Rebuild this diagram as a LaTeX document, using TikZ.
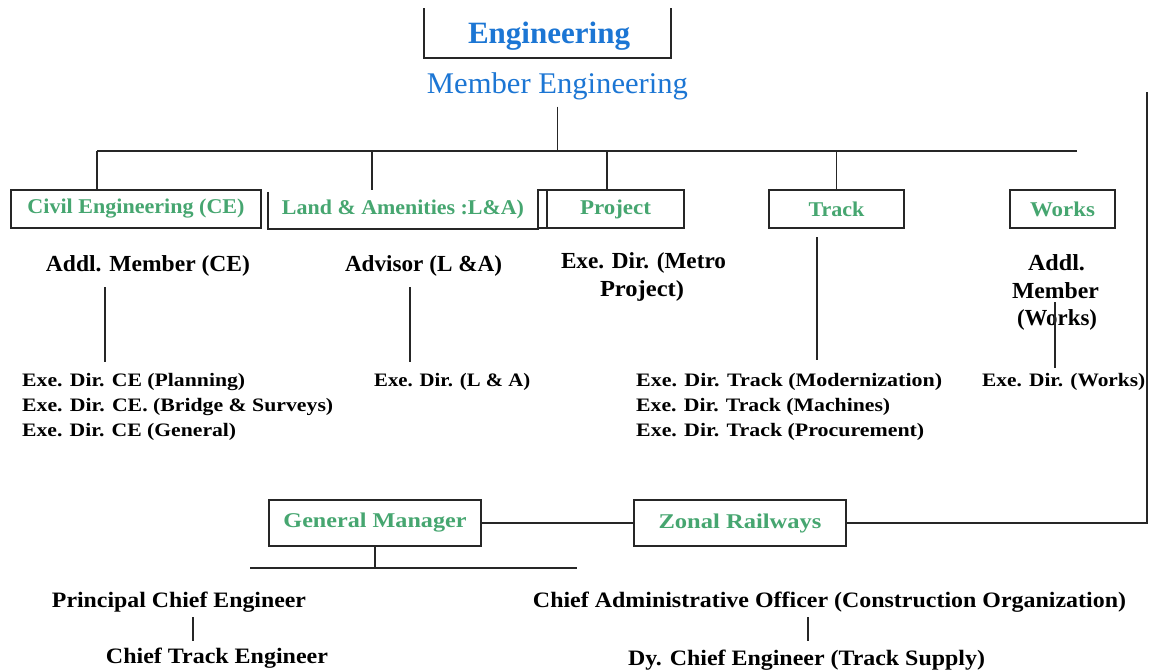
\documentclass[tikz,border=0pt]{standalone}
\usepackage{fontspec}
\setmainfont{Liberation Serif}
\usepackage{graphicx}
\usetikzlibrary{calc}
\definecolor{engblue}{RGB}{28,118,212}
\definecolor{boxgreen}{RGB}{70,166,112}
\definecolor{linec}{RGB}{38,38,38}
\newcommand{\fw}[2]{\resizebox{#1pt}{\height}{#2}}
\tikzset{
  conn/.style={draw=linec, line width=1.8pt},
  gbox/.style={draw=linec, line width=1.8pt, inner sep=0pt, text=boxgreen, font=\fontsize{21}{21}\selectfont\bfseries},
  lbl/.style={inner sep=0pt, anchor=base, font=\fontsize{23}{23}\selectfont\bfseries},
  lst/.style={inner sep=0pt, anchor=base west, font=\fontsize{19}{19}\selectfont\bfseries},
  btm/.style={inner sep=0pt, anchor=base, font=\fontsize{22}{22}\selectfont\bfseries},
}
\begin{document}
\begin{tikzpicture}[x=1pt,y=-1pt]
\useasboundingbox[fill=white] (0,0) rectangle (1156,670);

% top title
\node[inner sep=0pt, anchor=base, text=engblue, font=\fontsize{31}{31}\selectfont\bfseries] (eng) at (549,43) {\fw{162}{Engineering}};
\coordinate (engTL) at (424,8);
\coordinate (engTR) at (671,8);
\draw[conn] (engTL) -- (engTL |- 0,58) -- (engTR |- 0,58) -- (engTR);
\node[inner sep=0pt, anchor=base, text=engblue, font=\fontsize{30}{30}\selectfont] (meng) at (557.5,93) {\fw{261}{Member Engineering}};

% bus
\coordinate (busL) at (97,151);
\coordinate (busR) at (1077,151);
\draw[conn] ([yshift=-7pt]meng.south) -- (meng.south |- busL);
\draw[conn] (busL) -- (busR);

% second row boxes
\node[gbox, minimum width=250pt, minimum height=38pt] (ce) at (136,209) {\fw{217}{Civil Engineering (CE)}};
\node[inner sep=0pt, minimum width=270pt, minimum height=39pt, text=boxgreen, font=\fontsize{21}{21}\selectfont\bfseries] (la) at (403,209.5) {\fw{242}{Land \& Amenities :L\&A)}};
\draw[conn] ([yshift=-2pt]la.north west) -- (la.south west) -- (la.south east) -- (la.north east);
\node[gbox, minimum width=9pt, minimum height=38pt] (narrow) at (542.5,209) {};
\node[gbox, minimum width=137pt, minimum height=38pt] (proj) at (615.5,209) {\fw{71}{Project}};
\node[gbox, minimum width=135pt, minimum height=38pt] (track) at (836.5,209) {\fw{56}{Track}};
\node[gbox, minimum width=105pt, minimum height=38pt] (works) at (1062.5,209) {\fw{65}{Works}};

\draw[conn] (busL) -- (busL |- ce.north);
\coordinate (dLA) at (372,151);
\draw[conn] (dLA) -- (dLA |- la.north);
\coordinate (dPR) at (607,151);
\draw[conn] (dPR) -- (dPR |- proj.north);
\draw[conn] (track.north |- busL) -- (track.north);

% third row labels
\node[lbl] (addlce) at (148,271) {\fw{204}{Addl. Member (CE)}};
\node[lbl] (adv) at (423.5,271) {\fw{157}{Advisor (L \&A)}};
\node[lbl] (metro1) at (643.5,268) {\fw{165}{Exe. Dir. (Metro}};
\node[lbl] (metro2) at (642,296) {\fw{84}{Project)}};
\node[lbl] (aw1) at (1056.5,270) {\fw{57}{Addl.}};
\node[lbl] (aw2) at (1055.5,298) {\fw{87}{Member}};
\node[lbl] (aw3) at (1057,325) {\fw{80}{(Works)}};

% lists
\node[lst] (ce1) at (22,386) {\fw{223}{Exe. Dir. CE (Planning)}};
\node[lst] (ce2) at (22,411) {\fw{311}{Exe. Dir. CE. (Bridge \& Surveys)}};
\node[lst] (ce3) at (22,436) {\fw{214}{Exe. Dir. CE (General)}};
\node[lst] (la1) at (374,386) {\fw{156}{Exe. Dir. (L \& A)}};
\node[lst] (tr1) at (636,386) {\fw{306}{Exe. Dir. Track (Modernization)}};
\node[lst] (tr2) at (636,411) {\fw{254}{Exe. Dir. Track (Machines)}};
\node[lst] (tr3) at (636,436) {\fw{288}{Exe. Dir. Track (Procurement)}};
\node[lst] (wk1) at (982,386) {\fw{163}{Exe. Dir. (Works)}};

% third row connectors
\coordinate (xCE) at (105,287);
\draw[conn] (xCE) -- (xCE |- 0,362);
\coordinate (xLA) at (410,287);
\draw[conn] (xLA) -- (xLA |- 0,362);
\coordinate (xTR) at (817,237);
\draw[conn] (xTR) -- (xTR |- 0,360);
\coordinate (xWK) at (1055,302);
\draw[conn] (xWK) -- (xWK |- 0,368);

% bottom boxes
\node[gbox, minimum width=212pt, minimum height=46pt] (gm) at (375,523) {\fw{183}{General Manager}};
\node[gbox, minimum width=212pt, minimum height=46pt] (zr) at (740,523) {\fw{163}{Zonal Railways}};
\coordinate (rTop) at (1147,92);
\draw[conn] (gm.east) -- (zr.west);
\draw[conn] (zr.east) -- (rTop |- zr.east) -- (rTop);
\coordinate (gmBarL) at (250,568);
\coordinate (gmBarR) at (577,568);
\draw[conn] (gm.south) -- (gm.south |- gmBarL);
\draw[conn] (gmBarL) -- (gmBarR);

% bottom labels
\node[btm] (pce) at (179,607) {\fw{254}{Principal Chief Engineer}};
\node[btm] (cte) at (217,663) {\fw{222}{Chief Track Engineer}};
\node[btm] (cao) at (829.5,607) {\fw{593}{Chief Administrative Officer (Construction Organization)}};
\node[btm] (dce) at (806.5,665) {\fw{357}{Dy. Chief Engineer (Track Supply)}};
\coordinate (xP) at (193,617);
\draw[conn] (xP) -- (xP |- 0,641);
\coordinate (xC) at (808,617);
\draw[conn] (xC) -- (xC |- 0,641);
\end{tikzpicture}
\end{document}
